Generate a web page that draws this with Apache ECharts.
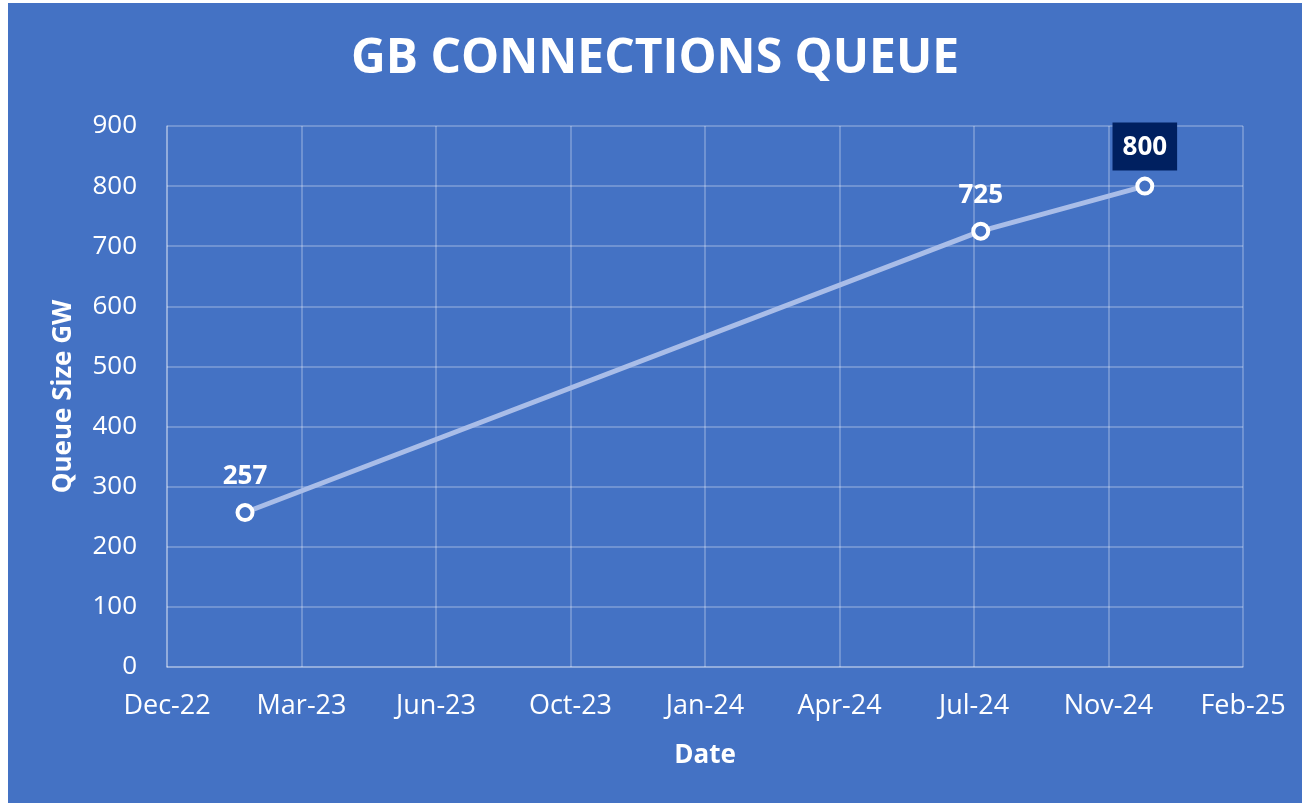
<!DOCTYPE html>
<html>
<head>
<meta charset="utf-8">
<script src="https://cdn.jsdelivr.net/npm/echarts@6/dist/echarts.min.js"></script>
<style>
  html, body { margin: 0; padding: 0; background: #fff; }
  #main { position: absolute; left: 8px; top: 3px; width: 1294px; height: 800px; }
</style>
</head>
<body>
<div id="main"></div>
<script>
// chart data
var dates = ['2023-02-01', '2024-08-01', '2024-12-01'];
var queueGW = [257, 725, 800];
var xMinDate = '2022-12-05';
var xMaxDate = '2025-02-12';
var tickDays = 100;
var yTicks = [0, 100, 200, 300, 400, 500, 600, 700, 800, 900];

var MONTHS = ['Jan','Feb','Mar','Apr','May','Jun','Jul','Aug','Sep','Oct','Nov','Dec'];
var DAY = 86400000;
var EXCEL_EPOCH = Date.UTC(1899, 11, 30);

// excel style serial days, so the axis ticks step by 100 days like the original
function toSerial(s) {
  var p = s.split('-');
  return Math.round((Date.UTC(+p[0], +p[1] - 1, +p[2]) - EXCEL_EPOCH) / DAY);
}
function fmtSerial(v) {
  var d = new Date(EXCEL_EPOCH + v * DAY);
  return MONTHS[d.getUTCMonth()] + '-' + String(d.getUTCFullYear()).slice(2);
}

var points = dates.map(function (d, i) {
  var item = { value: [toSerial(d), queueGW[i]] };
  if (i === dates.length - 1) {
    // last point label sits in a dark box
    item.label = { backgroundColor: '#002060', padding: [12, 10, 10, 10], distance: 6 };
  }
  return item;
});

var gridColor = 'rgba(255,255,255,0.32)';
var fontFam = '"Open Sans", "Noto Sans", sans-serif';

var myChart = echarts.init(document.getElementById('main'));
var option = {
  backgroundColor: '#4472C4',
  animation: false,
  title: {
    text: 'GB CONNECTIONS QUEUE',
    left: 'center',
    top: 27,
    textStyle: { color: '#fff', fontSize: 48, fontWeight: 'bold', fontFamily: fontFam }
  },
  grid: { left: 159, right: 59, top: 123, bottom: 136, containLabel: false },
  xAxis: {
    type: 'value',
    min: toSerial(xMinDate),
    max: toSerial(xMaxDate),
    interval: tickDays,
    name: 'Date',
    nameLocation: 'middle',
    nameGap: 76,
    nameTextStyle: { color: '#fff', fontSize: 26, fontWeight: 'bold', fontFamily: fontFam },
    axisLine: { show: true, lineStyle: { color: gridColor, width: 1.5 } },
    axisTick: { show: false },
    splitLine: { show: true, lineStyle: { color: gridColor, width: 1.5 } },
    axisLabel: {
      color: '#fff', fontSize: 27, fontFamily: fontFam, margin: 26,
      formatter: function (v) { return fmtSerial(v); }
    }
  },
  yAxis: {
    type: 'value',
    min: yTicks[0],
    max: yTicks[yTicks.length - 1],
    interval: yTicks[1] - yTicks[0],
    name: 'Queue Size GW',
    nameLocation: 'middle',
    nameGap: 90,
    nameRotate: 90,
    nameTextStyle: { color: '#fff', fontSize: 26, fontWeight: 'bold', fontFamily: fontFam },
    axisLine: { show: true, lineStyle: { color: gridColor, width: 1.5 } },
    axisTick: { show: false },
    splitLine: { show: true, lineStyle: { color: gridColor, width: 1.5 } },
    axisLabel: { color: '#fff', fontSize: 26, fontFamily: fontFam, margin: 30 }
  },
  series: [{
    type: 'line',
    data: points,
    symbol: 'circle',
    symbolSize: 15,
    lineStyle: { color: '#A9BDE8', width: 5 },
    itemStyle: { color: '#4472C4', borderColor: '#fff', borderWidth: 4 },
    label: {
      show: true,
      position: 'top',
      distance: 13,
      color: '#fff',
      fontSize: 26,
      fontWeight: 'bold',
      fontFamily: fontFam,
      formatter: function (p) { return p.value[1]; }
    }
  }]
};
myChart.setOption(option);
</script>
</body>
</html>
